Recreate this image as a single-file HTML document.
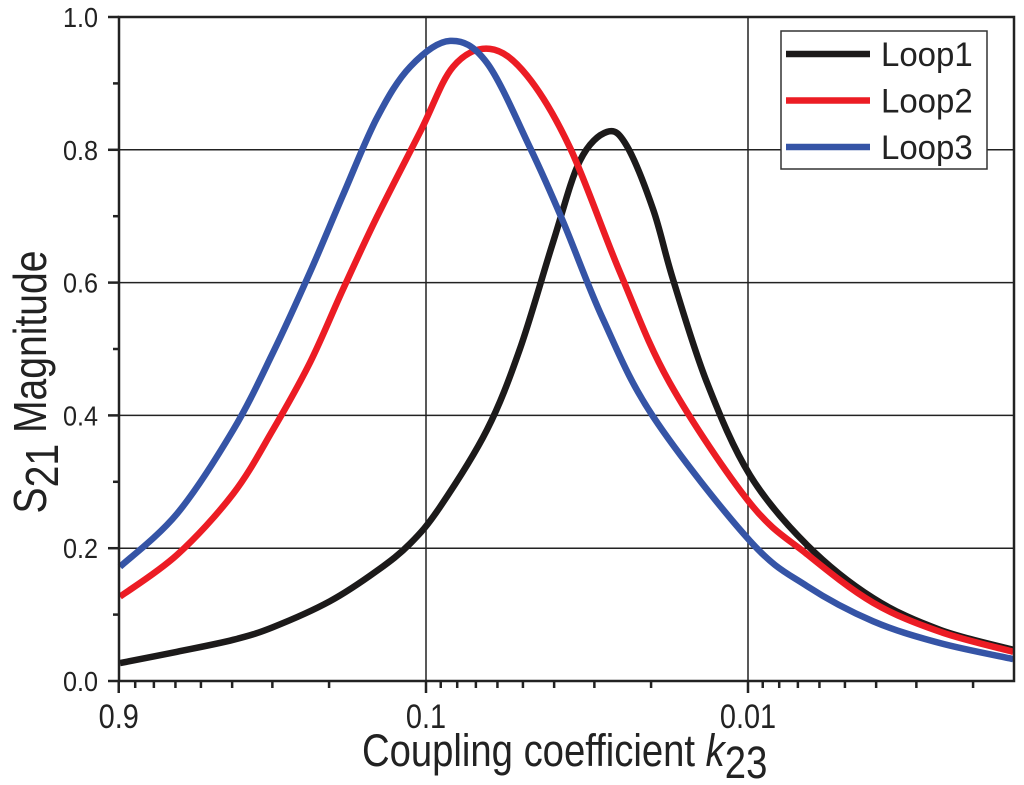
<!DOCTYPE html>
<html><head><meta charset="utf-8"><style>
html,body{margin:0;padding:0;background:#fff;width:1024px;height:785px;overflow:hidden}
text{font-family:"Liberation Sans",sans-serif;fill:#222}
</style></head><body>
<svg id="chart" width="1024" height="785" viewBox="0 0 1024 785" xmlns="http://www.w3.org/2000/svg"></svg>
<script>
const loop1K=[0.892,0.593,0.397,0.299,0.199,0.142,0.112,0.0905,0.0647,0.0511,0.0403,0.0333,0.0274,0.0238,0.0197,0.0171,0.0134,0.00986,0.00656,0.00409,0.00253,0.0015];
const loop1V=[0.027,0.044,0.062,0.081,0.12,0.166,0.207,0.262,0.378,0.5,0.661,0.783,0.827,0.806,0.71,0.605,0.449,0.31,0.205,0.125,0.077,0.047];
const loop2K=[0.892,0.593,0.397,0.299,0.229,0.181,0.142,0.104,0.0824,0.0633,0.0486,0.0357,0.025,0.0175,0.00986,0.00656,0.00409,0.00253,0.0015];
const loop2V=[0.127,0.19,0.282,0.378,0.48,0.59,0.699,0.828,0.925,0.952,0.912,0.803,0.616,0.449,0.268,0.191,0.118,0.074,0.044];
const loop3K=[0.892,0.593,0.397,0.299,0.229,0.181,0.142,0.112,0.0842,0.0647,0.0475,0.0376,0.0282,0.0197,0.00986,0.00656,0.00409,0.00253,0.0015];
const loop3V=[0.172,0.252,0.378,0.494,0.616,0.732,0.848,0.925,0.964,0.931,0.803,0.693,0.545,0.398,0.211,0.143,0.09,0.057,0.033];
const xTickVals=[0.9,0.1,0.01];
const xTickLabels=["0.9","0.1","0.01"];
const yTickVals=[0,0.2,0.4,0.6,0.8,1.0];
const yTickLabels=["0.0","0.2","0.4","0.6","0.8","1.0"];
const seriesNames=["Loop1","Loop2","Loop3"];
const seriesColors=["#1c1a1a","#ec1c24","#3554a6"];

const NS="http://www.w3.org/2000/svg";
const svg=document.getElementById('chart');
const L=119,R=1014,T=17,B=681;
function xs(k){return 426-322*Math.log10(k/0.1);}
function ys(v){return B-(B-T)*v;}
function mk(tag,attrs,parent){const e=document.createElementNS(NS,tag);for(const a in attrs)e.setAttribute(a,attrs[a]);(parent||svg).appendChild(e);return e;}

const grid=mk('g',{});


[0.2,0.4,0.6,0.8].forEach(v=>mk('line',{x1:L,x2:R,y1:ys(v),y2:ys(v),stroke:'#222','stroke-width':1.5},grid));
[0.1,0.01].forEach(k=>mk('line',{x1:xs(k),x2:xs(k),y1:T,y2:B,stroke:'#222','stroke-width':1.5},grid));

const sets=[[loop1K,loop1V],[loop2K,loop2V],[loop3K,loop3V]];
function pathFor(K,V){
  const p=K.map((k,i)=>[xs(k),ys(V[i])]);
  let d=`M${p[0][0]},${p[0][1]}`;
  for(let i=0;i<p.length-1;i++){
    const p0=p[i-1]||p[i],p1=p[i],p2=p[i+1],p3=p[i+2]||p[i+1];
    const c1=[p1[0]+(p2[0]-p0[0])/6,p1[1]+(p2[1]-p0[1])/6];
    const c2=[p2[0]-(p3[0]-p1[0])/6,p2[1]-(p3[1]-p1[1])/6];
    d+=` C${c1[0]},${c1[1]} ${c2[0]},${c2[1]} ${p2[0]},${p2[1]}`;
  }
  return d;
}
[0,1,2].forEach(i=>{
  const pth=mk('path',{d:pathFor(sets[i][0],sets[i][1]),fill:'none',stroke:seriesColors[i],'stroke-width':6.5,'stroke-linejoin':'round'});
  
  
});

const frame=mk('rect',{x:L,y:T,width:R-L,height:B-T,fill:'none',stroke:'#222','stroke-width':2.5});



const yAxis=mk('g',{});


yTickVals.forEach((v,i)=>{
  mk('line',{x1:L-11,x2:L,y1:ys(v),y2:ys(v),stroke:'#222','stroke-width':2.5},yAxis);
  const t=mk('text',{x:0,y:0,style:'font-size:28px','text-anchor':'end',transform:`translate(98,${ys(v)+10}) scale(0.9,1)`},yAxis);
  t.textContent=yTickLabels[i];
  
  
  if(i<yTickVals.length-1){const m=v+0.1;mk('line',{x1:L-6,x2:L,y1:ys(m),y2:ys(m),stroke:'#222','stroke-width':2.5},yAxis);}
});

const xAxis=mk('g',{});


xTickVals.forEach((k,i)=>{
  mk('line',{x1:xs(k),x2:xs(k),y1:B,y2:B+12,stroke:'#222','stroke-width':2.5},xAxis);
  const t=mk('text',{x:0,y:0,style:'font-size:34px','text-anchor':'middle',transform:`translate(${xs(k)},728) scale(0.85,1)`},xAxis);
  t.textContent=xTickLabels[i];
  
  
});
[0.1,0.01,0.001].forEach(dec=>{
  for(let m=2;m<=9;m++){const k=dec*m;if(k>=0.9)continue;const x=xs(k);if(x>R)continue;
    mk('line',{x1:x,x2:x,y1:B,y2:B+7,stroke:'#222','stroke-width':2.5},xAxis);}
});

const xt=mk('text',{x:0,y:0,style:'font-size:45px',transform:'translate(362,766) scale(0.85,1)'});


xt.innerHTML='Coupling coefficient <tspan font-style="italic">k</tspan><tspan dy="12">23</tspan>';
const yt=mk('text',{x:0,y:0,style:'font-size:46px','text-anchor':'middle',transform:'translate(46,382) rotate(-90) scale(0.85,1)'});


yt.innerHTML='S<tspan dy="12">21</tspan><tspan dy="-12"> Magnitude</tspan>';

const lg=mk('g',{});


mk('rect',{x:781,y:31,width:206,height:138,fill:'#fff',stroke:'#333','stroke-width':1.5},lg);
seriesNames.forEach((n,i)=>{
  const y=54+i*46.5;
  const e=mk('g',{},lg);
  
  
  mk('line',{x1:786,x2:870,y1:y,y2:y,stroke:seriesColors[i],'stroke-width':6.5},e);
  const t=mk('text',{x:0,y:0,style:'font-size:34px',transform:`translate(881,${y+12}) scale(0.97,1)`},e);
  t.textContent=n;
});
</script>
</body></html>
